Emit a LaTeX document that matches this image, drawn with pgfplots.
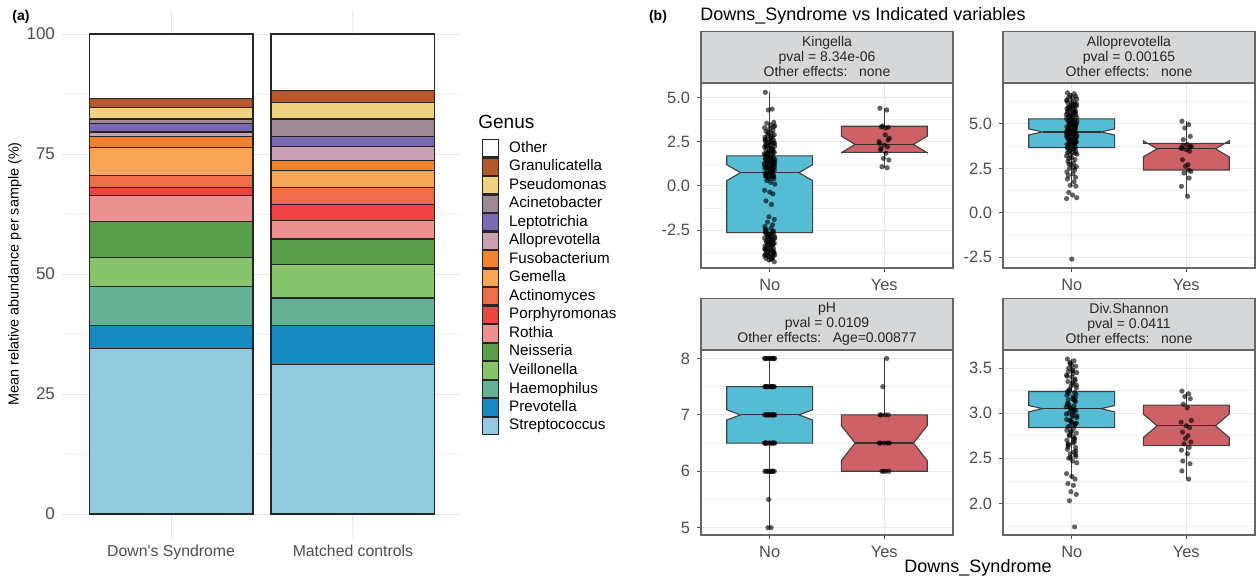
\documentclass[border=0pt]{standalone}
\usepackage{pgfplots}
\pgfplotsset{compat=1.18}
\usepackage{fontspec}
\setmainfont{Liberation Sans}
\definecolor{cOther}{HTML}{FFFFFF}
\definecolor{cGran}{HTML}{B4582F}
\definecolor{cPseu}{HTML}{EED27F}
\definecolor{cAcin}{HTML}{9E8893}
\definecolor{cLept}{HTML}{7A68B0}
\definecolor{cAllo}{HTML}{C9A0B4}
\definecolor{cFuso}{HTML}{F3822E}
\definecolor{cGeme}{HTML}{F7A655}
\definecolor{cActi}{HTML}{F06D4B}
\definecolor{cPorp}{HTML}{EE4444}
\definecolor{cRoth}{HTML}{EC9191}
\definecolor{cNeis}{HTML}{5A9E4C}
\definecolor{cVeil}{HTML}{88C46C}
\definecolor{cHaem}{HTML}{66B095}
\definecolor{cPrev}{HTML}{1689C1}
\definecolor{cStre}{HTML}{93CADF}
\definecolor{nofill}{HTML}{56BCD3}
\definecolor{yesfill}{HTML}{CD6166}
\definecolor{stripfill}{HTML}{D5D7D8}
\definecolor{tickgrey}{HTML}{4D4D4D}
\pgfplotsset{
  facet/.style={
    anchor=south west, scale only axis, width=126pt, height=92.5pt,
    xmin=0.4, xmax=2.6, xtick={1,2}, xticklabels={No,Yes},
    tick align=outside, tickpos=left, major tick length=2pt, minor tick length=0pt,
    tick style={draw=black!70, line width=0.5pt},
    axis line style={draw=black!60, line width=0.6pt},
    xmajorgrids, ymajorgrids, yminorgrids,
    major grid style={draw=black!9, line width=0.5pt},
    minor grid style={draw=black!6, line width=0.3pt},
    ticklabel style={font=\fontsize{8.2}{9}\selectfont, text=tickgrey},
    every axis title/.style={at={(0.5,1)}, anchor=south, fill=stripfill, draw=black!60, line width=0.6pt,
      minimum width=126pt, minimum height=25.5pt, inner sep=0pt, align=center,
      font=\fontsize{7}{7.5}\selectfont, text=black!85},
  },
  wh/.style={draw=black!75, line width=0.6pt},
  boxno/.style={fill=nofill, draw=black!75, line width=0.55pt},
  boxyes/.style={fill=yesfill, draw=black!75, line width=0.55pt},
  med/.style={draw=black!80, line width=0.6pt},
  pts/.style={only marks, mark=*, mark size=1.3pt, mark options={line width=0pt, draw=black, draw opacity=0, fill=black, fill opacity=0.62}},
}
\begin{document}
\begin{tikzpicture}
\useasboundingbox (0,0) rectangle (630pt,290pt);
% ---------------- panel (a) ----------------
\begin{axis}[
  at={(31pt,21pt)}, anchor=south west,
  scale only axis, width=200pt, height=264pt,
  ybar stacked, bar width=0.9,
  xmin=0.4, xmax=2.6, ymin=-5, ymax=105,
  xtick={1,2}, xticklabels={Down\textquotesingle s Syndrome, Matched controls},
  ytick={0,25,50,75,100}, yticklabels={0,25,50,75,100},
  minor ytick={12.5,37.5,62.5,87.5},
  xmajorgrids, ymajorgrids, yminorgrids,
  major grid style={draw=black!9, line width=0.5pt},
  minor grid style={draw=black!5, line width=0.3pt},
  axis line style={draw=none},
  major tick length=0pt, minor tick length=0pt,
  ticklabel style={text=tickgrey},
  yticklabel style={font=\fontsize{8.5}{10}\selectfont},
  xticklabel style={font=\fontsize{7.9}{9}\selectfont},
  ylabel={Mean relative abundance per sample (\%)},
  every axis y label/.style={at={(rel axis cs:-0.1175,0.5)}, rotate=90, anchor=center, font=\fontsize{7.2}{8}\selectfont},
  every axis plot post/.append style={legend image code/.code={\draw[##1,draw=black!85,line width=0.6pt] (0pt,-4.33pt) rectangle (8pt,4.33pt);}},
  reverse legend,
  legend cell align=left,
  legend style={at={(rel axis cs:1.05,0.7557)}, anchor=north west, draw=none, fill=none,
    inner sep=0pt, outer sep=0pt, row sep=0pt, column sep=5pt,
    font=\fontsize{7.6}{9}\selectfont, nodes={inner sep=0pt, outer sep=0pt}},
]
\addplot[fill=cStre, draw=black!85, line width=0.6pt] coordinates {(1,34.5) (2,31.2)}; \addlegendentry{Streptococcus}
\addplot[fill=cPrev, draw=black!85, line width=0.6pt] coordinates {(1,4.8) (2,8.1)}; \addlegendentry{Prevotella}
\addplot[fill=cHaem, draw=black!85, line width=0.6pt] coordinates {(1,8.1) (2,5.7)}; \addlegendentry{Haemophilus}
\addplot[fill=cVeil, draw=black!85, line width=0.6pt] coordinates {(1,6.0) (2,6.9)}; \addlegendentry{Veillonella}
\addplot[fill=cNeis, draw=black!85, line width=0.6pt] coordinates {(1,7.6) (2,5.4)}; \addlegendentry{Neisseria}
\addplot[fill=cRoth, draw=black!85, line width=0.6pt] coordinates {(1,5.4) (2,3.9)}; \addlegendentry{Rothia}
\addplot[fill=cPorp, draw=black!85, line width=0.6pt] coordinates {(1,1.7) (2,3.2)}; \addlegendentry{Porphyromonas}
\addplot[fill=cActi, draw=black!85, line width=0.6pt] coordinates {(1,2.5) (2,3.7)}; \addlegendentry{Actinomyces}
\addplot[fill=cGeme, draw=black!85, line width=0.6pt] coordinates {(1,5.8) (2,3.5)}; \addlegendentry{Gemella}
\addplot[fill=cFuso, draw=black!85, line width=0.6pt] coordinates {(1,2.3) (2,2.1)}; \addlegendentry{Fusobacterium}
\addplot[fill=cAllo, draw=black!85, line width=0.6pt] coordinates {(1,0.9) (2,2.9)}; \addlegendentry{Alloprevotella}
\addplot[fill=cLept, draw=black!85, line width=0.6pt] coordinates {(1,1.8) (2,2.1)}; \addlegendentry{Leptotrichia}
\addplot[fill=cAcin, draw=black!85, line width=0.6pt] coordinates {(1,0.9) (2,3.6)}; \addlegendentry{Acinetobacter}
\addplot[fill=cPseu, draw=black!85, line width=0.6pt] coordinates {(1,2.4) (2,3.5)}; \addlegendentry{Pseudomonas}
\addplot[fill=cGran, draw=black!85, line width=0.6pt] coordinates {(1,1.8) (2,2.4)}; \addlegendentry{Granulicatella}
\addplot[fill=cOther, draw=black!85, line width=0.6pt] coordinates {(1,13.5) (2,11.8)}; \addlegendentry{Other}
\end{axis}
\node[anchor=west, inner sep=0pt, font=\fontsize{9.5}{10}\selectfont] at (239pt,229pt) {Genus};
\node[inner sep=0pt, font=\fontsize{7}{8}\selectfont\bfseries] at (10.5pt,281.5pt) {(a)};
\node[inner sep=0pt, font=\fontsize{7}{8}\selectfont\bfseries] at (329pt,281.5pt) {(b)};
\node[anchor=west, inner sep=0pt, font=\fontsize{9}{10}\selectfont] at (350pt,282pt) {Downs\_Syndrome vs Indicated variables};
\node[inner sep=0pt, font=\fontsize{9}{10}\selectfont] at (489pt,6pt) {Downs\_Syndrome};
% ---------------- Kingella ----------------
\begin{axis}[facet, at={(350.5pt,156pt)}, ymin=-4.65, ymax=5.83,
  ytick={-2.5,0,2.5,5}, yticklabels={-2.5,0.0,2.5,5.0}, minor ytick={-3.75,-1.25,1.25,3.75},
  title={Kingella\\pval = 8.34e-06\\Other effects:\ \ \ none}]
\addplot[wh] coordinates {(1,1.7) (1,5.3)};
\addplot[wh] coordinates {(1,-2.65) (1,-4.3)};
\addplot[wh] coordinates {(2,3.38) (2,4.4)};
\addplot[wh] coordinates {(2,1.9) (2,1.03)};
\addplot[boxno] coordinates {(0.625,1.7) (0.625,1.2) (0.745,0.75) (0.625,0.3) (0.625,-2.65) (1.375,-2.65) (1.375,0.3) (1.255,0.75) (1.375,1.2) (1.375,1.7)} --cycle;
\addplot[med] coordinates {(0.745,0.75) (1.255,0.75)};
\addplot[boxyes] coordinates {(1.625,3.38) (1.625,2.82) (1.745,2.35) (1.625,1.88) (1.625,1.9) (2.375,1.9) (2.375,1.88) (2.255,2.35) (2.375,2.82) (2.375,3.38)} --cycle;
\addplot[med] coordinates {(1.745,2.35) (2.255,2.35)};
\addplot[pts] coordinates {
(0.962,5.3) (1.021,4.35) (0.987,4.3) (1.035,3.6) (0.974,3.55) (1.008,3.45) (1.044,3.4) (0.955,3.3) (1.000,3.25) (1.028,3.15)
(0.967,3.1) (1.015,3.0) (0.993,2.95) (1.040,2.9) (0.980,2.85) (1.025,2.8) (0.958,2.75) (1.011,2.7) (0.970,2.65) (1.033,2.6)
(0.962,2.55) (1.021,2.5) (0.987,2.45) (1.035,2.4) (0.974,2.38) (1.008,2.3) (1.044,2.25) (0.955,2.2) (1.000,2.15) (1.028,2.1)
(0.967,2.05) (1.015,2.0) (0.993,1.97) (1.040,1.9) (0.980,1.85) (1.025,1.8) (0.958,1.78) (1.011,1.72) (0.970,1.68) (1.033,1.6)
(0.962,1.55) (1.021,1.5) (0.987,1.45) (1.035,1.4) (0.974,1.35) (1.008,1.3) (1.044,1.25) (0.955,1.2) (1.000,1.15) (1.028,1.1)
(0.967,1.05) (1.015,1.0) (0.993,0.95) (1.040,0.9) (0.980,0.85) (1.025,0.8) (0.958,0.75) (1.011,0.7) (0.970,0.65) (1.033,0.6)
(0.962,0.55) (1.021,0.5) (0.987,0.45) (1.035,0.4) (0.974,0.3) (1.008,0.2) (1.044,0.1) (0.955,-0.25) (1.000,-0.35) (1.028,-0.45)
(0.967,-0.85) (1.015,-1.05) (0.993,-1.75) (1.040,-1.9) (0.980,-2.05) (1.025,-2.2) (0.958,-2.3) (1.011,-2.4) (0.970,-2.5) (1.033,-2.55)
(0.962,-2.6) (1.021,-2.65) (0.987,-2.7) (1.035,-2.75) (0.974,-2.8) (1.008,-2.85) (1.044,-2.9) (0.955,-2.95) (1.000,-3.0) (1.028,-3.05)
(0.967,-3.1) (1.015,-3.15) (0.993,-3.2) (1.040,-3.25) (0.980,-3.3) (1.025,-3.35) (0.958,-3.4) (1.011,-3.45) (0.970,-3.5) (1.033,-3.55)
(0.962,-3.6) (1.021,-3.65) (0.987,-3.7) (1.035,-3.75) (0.974,-3.8) (1.008,-3.85) (1.044,-3.9) (0.955,-3.95) (1.000,-4.0) (1.028,-4.05)
(0.967,-4.1) (1.015,-4.15) (0.993,-4.2) (1.040,-4.3)
(0.990,1.62) (1.010,1.42) (0.975,1.22) (1.030,0.98) (1.005,0.78) (0.985,1.88) (1.018,2.08) (0.965,1.52) (1.038,1.32) (0.995,2.28)
(1.012,0.62) (0.978,1.12) (1.000,-3.32) (0.970,-3.62) (1.030,-3.92) (0.985,-2.92) (1.020,-3.12)
(0.960,2.62) (1.042,2.42) (0.972,2.22) (1.022,2.02) (0.952,1.82) (1.002,1.62) (1.046,1.48) (0.982,1.38) (1.027,1.18) (0.957,1.02)
(1.013,0.88) (0.969,0.68) (1.036,0.52) (0.989,0.42) (1.006,2.52) (0.963,2.32) (1.031,1.95) (0.977,1.75) (1.017,1.58) (0.953,1.28)
(1.041,1.08) (0.996,0.92) (1.023,0.72) (0.968,0.58) (1.009,2.72) (0.984,3.05) (1.034,3.35)
(0.961,-2.45) (1.026,-2.62) (0.991,-2.78) (1.043,-2.98) (0.972,-3.18) (1.014,-3.38) (0.956,-3.58) (1.037,-3.78) (0.983,-3.98) (1.019,-4.12)
(0.966,-2.68) (1.004,-2.88) (1.031,-3.28) (0.976,-3.48) (1.008,-3.68) (0.962,-3.88)
};
\addplot[pts] coordinates {
(1.962,4.40) (2.021,4.30) (1.987,3.40) (2.035,3.32) (1.974,3.35) (2.008,2.89) (2.044,2.70) (1.955,2.51) (2.000,2.32) (2.028,2.22)
(1.967,2.04) (2.015,1.85) (1.993,1.56) (2.040,1.47) (1.980,1.09) (2.025,1.03) (1.958,2.40) (2.011,3.28) (1.970,2.12) (2.033,2.60)
};
\end{axis}
% ---------------- Alloprevotella ----------------
\begin{axis}[facet, at={(501.5pt,156pt)}, ymin=-3.1, ymax=7.3,
  ytick={-2.5,0,2.5,5}, yticklabels={-2.5,0.0,2.5,5.0}, minor ytick={-1.25,1.25,3.75,6.25},
  title={Alloprevotella\\pval = 0.00165\\Other effects:\ \ \ none}]
\addplot[wh] coordinates {(1,5.28) (1,6.75)};
\addplot[wh] coordinates {(1,3.67) (1,1.5)};
\addplot[wh] coordinates {(2,3.91) (2,5.15)};
\addplot[wh] coordinates {(2,2.41) (2,0.93)};
\addplot[boxno] coordinates {(0.625,5.28) (0.625,4.72) (0.745,4.55) (0.625,4.38) (0.625,3.67) (1.375,3.67) (1.375,4.38) (1.255,4.55) (1.375,4.72) (1.375,5.28)} --cycle;
\addplot[med] coordinates {(0.745,4.55) (1.255,4.55)};
\addplot[boxyes] coordinates {(1.625,3.91) (1.625,4.05) (1.745,3.6) (1.625,3.15) (1.625,2.41) (2.375,2.41) (2.375,3.15) (2.255,3.6) (2.375,4.05) (2.375,3.91)} --cycle;
\addplot[med] coordinates {(1.745,3.6) (2.255,3.6)};
\addplot[pts] coordinates {
(0.962,6.75) (1.021,6.70) (0.987,6.60) (1.035,6.55) (0.974,6.50) (1.008,6.45) (1.044,6.40) (0.955,6.30) (1.000,6.25) (1.028,6.20)
(0.967,6.15) (1.015,6.10) (0.993,6.05) (1.040,6.00) (0.980,5.95) (1.025,5.90) (0.958,5.85) (1.011,5.80) (0.970,5.75) (1.033,5.70)
(0.962,5.65) (1.021,5.60) (0.987,5.55) (1.035,5.50) (0.974,5.45) (1.008,5.40) (1.044,5.35) (0.955,5.30) (1.000,5.25) (1.028,5.20)
(0.967,5.15) (1.015,5.10) (0.993,5.05) (1.040,5.00) (0.980,4.95) (1.025,4.90) (0.958,4.85) (1.011,4.80) (0.970,4.75) (1.033,4.70)
(0.962,4.65) (1.021,4.60) (0.987,4.55) (1.035,4.50) (0.974,4.45) (1.008,4.40) (1.044,4.35) (0.955,4.30) (1.000,4.25) (1.028,4.20)
(0.967,4.15) (1.015,4.10) (0.993,4.05) (1.040,4.00) (0.980,3.95) (1.025,3.90) (0.958,3.85) (1.011,3.80) (0.970,3.75) (1.033,3.70)
(0.962,3.65) (1.021,3.60) (0.987,3.55) (1.035,3.50) (0.974,3.45) (1.008,3.40) (1.044,3.30) (0.955,3.20) (1.000,3.10) (1.028,3.00)
(0.967,2.90) (1.015,2.80) (0.993,2.70) (1.040,2.60) (0.980,2.50) (1.025,2.40) (0.958,2.30) (1.011,2.20) (0.970,2.10) (1.033,2.00)
(0.962,1.90) (1.021,1.75) (0.987,1.55) (1.035,1.50) (0.974,1.15) (1.008,1.00) (1.044,0.85) (0.955,0.80) (1.000,-2.60)
(0.990,4.52) (1.012,4.62) (0.978,4.72) (1.030,4.82) (1.005,4.92) (0.985,5.02) (1.018,4.42) (0.965,4.32) (1.038,4.22) (0.995,4.12)
(1.012,5.12) (0.978,5.22) (1.022,3.92) (0.970,3.82) (1.000,5.52) (1.030,3.35) (0.975,3.05)
(0.960,6.35) (1.042,6.12) (0.972,5.92) (1.022,5.72) (0.952,5.52) (1.002,5.32) (1.046,5.12) (0.982,4.98) (1.027,4.78) (0.957,4.58)
(1.013,4.38) (0.969,4.18) (1.036,3.98) (0.989,3.78) (1.006,3.58) (0.963,3.38) (1.031,5.62) (0.977,5.42) (1.017,4.68) (0.953,4.48)
(1.041,4.28) (0.996,4.08) (1.023,3.88) (0.968,3.68) (1.009,6.02) (0.984,5.82) (1.034,4.88) (0.975,2.75) (1.020,2.55) (0.990,3.25)
};
\addplot[pts] coordinates {
(1.962,5.15) (2.021,4.96) (1.987,4.77) (2.035,4.30) (1.974,4.12) (2.008,3.84) (2.044,3.74) (1.955,3.65) (2.000,3.55) (2.028,3.46)
(1.967,2.99) (2.015,2.71) (1.993,2.62) (2.040,2.33) (1.980,2.24) (2.025,1.96) (1.958,1.49) (2.011,0.93) (1.970,3.78) (2.033,3.70)
(1.962,3.62) (2.021,2.40)
};
\end{axis}
% ---------------- pH ----------------
\begin{axis}[facet, at={(350.5pt,22.5pt)}, ymin=4.87, ymax=8.15,
  ytick={5,6,7,8}, yticklabels={5,6,7,8}, minor ytick={5.5,6.5,7.5},
  title={pH\\pval = 0.0109\\Other effects:\ \ \ Age=0.00877}]
\addplot[wh] coordinates {(1,7.5) (1,8)};
\addplot[wh] coordinates {(1,6.5) (1,5)};
\addplot[wh] coordinates {(2,7) (2,8)};
\addplot[boxno] coordinates {(0.625,7.5) (0.625,7.09) (0.745,7.0) (0.625,6.91) (0.625,6.5) (1.375,6.5) (1.375,6.91) (1.255,7.0) (1.375,7.09) (1.375,7.5)} --cycle;
\addplot[med] coordinates {(0.745,7.0) (1.255,7.0)};
\addplot[boxyes] coordinates {(1.625,7.0) (1.625,6.81) (1.745,6.5) (1.625,6.19) (1.625,6.0) (2.375,6.0) (2.375,6.19) (2.255,6.5) (2.375,6.81) (2.375,7.0)} --cycle;
\addplot[med] coordinates {(1.745,6.5) (2.255,6.5)};
\addplot[pts] coordinates {
(0.962,8) (1.021,8) (0.987,8) (1.035,8) (0.974,8) (1.008,8) (1.044,8) (0.955,8) (1.000,8) (1.028,8)
(0.967,7.5) (1.015,7.5) (0.993,7.5) (1.040,7.5) (0.980,7.5) (1.025,7.5) (0.958,7.5) (1.011,7.5) (0.970,7.5) (1.033,7.5) (0.962,7.5) (1.021,7.5)
(0.987,7) (1.035,7) (0.974,7) (1.008,7) (1.044,7) (0.955,7) (1.000,7) (1.028,7) (0.967,7) (1.015,7) (0.993,7) (1.040,7) (0.980,7) (1.025,7)
(0.958,6.5) (1.011,6.5) (0.970,6.5) (1.033,6.5) (0.962,6.5) (1.021,6.5) (0.987,6.5) (1.035,6.5) (0.974,6.5) (1.008,6.5) (1.044,6.5) (0.955,6.5)
(1.000,6) (1.028,6) (0.967,6) (1.015,6) (0.993,6) (1.040,6) (0.980,6) (1.025,6) (0.958,6) (1.011,6)
(0.990,5.5) (0.985,5) (1.012,5)
};
\addplot[pts] coordinates {
(2.021,8) (1.987,7.5) (1.962,7) (2.035,7) (2.008,7) (1.974,7) (2.044,6.5) (1.955,6.5) (2.000,6.5) (2.028,6.5) (1.967,6.5)
(2.015,6) (1.993,6) (2.040,6) (1.980,6)
};
\end{axis}
% ---------------- Div.Shannon ----------------
\begin{axis}[facet, at={(501.5pt,22.5pt)}, ymin=1.65, ymax=3.70,
  ytick={2,2.5,3,3.5}, yticklabels={2.0,2.5,3.0,3.5}, minor ytick={1.75,2.25,2.75,3.25},
  title={Div.Shannon\\pval = 0.0411\\Other effects:\ \ \ none}]
\addplot[wh] coordinates {(1,3.24) (1,3.6)};
\addplot[wh] coordinates {(1,2.84) (1,2.27)};
\addplot[wh] coordinates {(2,3.09) (2,3.24)};
\addplot[wh] coordinates {(2,2.64) (2,2.27)};
\addplot[boxno] coordinates {(0.625,3.24) (0.625,3.085) (0.745,3.05) (0.625,3.015) (0.625,2.84) (1.375,2.84) (1.375,3.015) (1.255,3.05) (1.375,3.085) (1.375,3.24)} --cycle;
\addplot[med] coordinates {(0.745,3.05) (1.255,3.05)};
\addplot[boxyes] coordinates {(1.625,3.09) (1.625,2.99) (1.745,2.86) (1.625,2.73) (1.625,2.64) (2.375,2.64) (2.375,2.73) (2.255,2.86) (2.375,2.99) (2.375,3.09)} --cycle;
\addplot[med] coordinates {(1.745,2.86) (2.255,2.86)};
\addplot[pts] coordinates {
(0.962,3.60) (1.021,3.58) (0.987,3.55) (1.035,3.52) (0.974,3.50) (1.008,3.48) (1.044,3.45) (0.955,3.42) (1.000,3.40) (1.028,3.38)
(0.967,3.35) (1.015,3.32) (0.993,3.30) (1.040,3.28) (0.980,3.25) (1.025,3.23) (0.958,3.20) (1.011,3.18) (0.970,3.15) (1.033,3.13)
(0.962,3.10) (1.021,3.08) (0.987,3.05) (1.035,3.03) (0.974,3.00) (1.008,2.98) (1.044,2.95) (0.955,2.93) (1.000,2.90) (1.028,2.88)
(0.967,2.85) (1.015,2.83) (0.993,2.80) (1.040,2.78) (0.980,2.75) (1.025,2.72) (0.958,2.70) (1.011,2.67) (0.970,2.65) (1.033,2.62)
(0.962,2.60) (1.021,2.57) (0.987,2.55) (1.035,2.52) (0.974,2.50) (1.008,2.47) (1.044,2.45) (0.955,2.33) (1.000,2.30) (1.028,2.27)
(0.967,2.22) (1.015,2.20) (0.993,2.13) (1.040,2.10) (0.980,2.03) (1.025,1.74)
(0.990,3.06) (1.012,3.16) (0.978,3.26) (1.030,3.36) (1.005,2.96) (0.985,2.86) (1.018,3.01) (0.965,3.11) (1.038,3.21) (0.995,2.91)
(1.012,3.44) (0.978,2.76) (1.022,2.68) (0.970,3.46) (1.000,3.53)
(0.960,3.41) (1.042,3.31) (0.972,3.22) (1.022,3.14) (0.952,3.07) (1.002,3.02) (1.046,2.97) (0.982,2.92) (1.027,2.87) (0.957,2.81)
(1.013,2.74) (0.969,2.66) (1.036,2.58) (0.989,2.51) (1.006,3.34) (0.963,3.24) (1.031,3.17) (0.977,3.09) (1.017,3.04) (0.953,2.99)
(1.041,2.89) (0.996,2.79) (1.023,2.71) (0.968,2.63) (1.009,3.47) (0.984,3.56) (1.034,2.54)
};
\addplot[pts] coordinates {
(1.962,3.244) (2.021,3.215) (1.987,3.185) (2.035,3.16) (1.974,3.10) (2.008,3.06) (2.044,2.92) (1.955,2.90) (2.000,2.86) (2.028,2.84)
(1.967,2.79) (2.015,2.75) (1.993,2.72) (2.040,2.68) (1.980,2.66) (2.025,2.62) (1.958,2.59) (2.011,2.55) (1.970,2.47) (2.033,2.44)
(1.962,2.36) (2.021,2.27)
};
\end{axis}
\end{tikzpicture}
\end{document}
